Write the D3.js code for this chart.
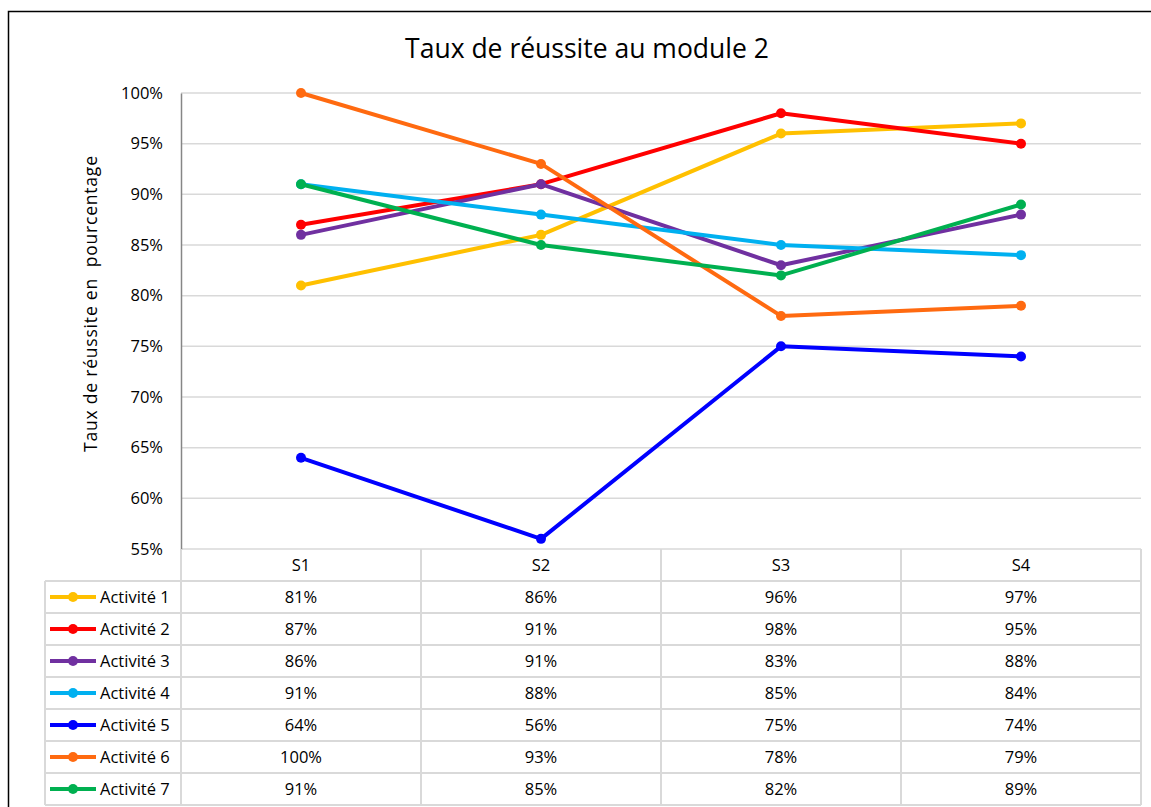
<!DOCTYPE html>
<html><head><meta charset="utf-8">
<script src="https://cdn.jsdelivr.net/npm/d3@7"></script>
<style>
body{margin:0;background:#fff;}
svg text{font-family:"Open Sans",Lato,sans-serif;fill:#000;}
</style></head>
<body><svg id="c" width="1151" height="807"></svg>
<script>
const categories = ["S1","S2","S3","S4"];
const seriesNames = ["Activité 1","Activité 2","Activité 3","Activité 4","Activité 5","Activité 6","Activité 7"];
const activite1 = [81,86,96,97];
const activite2 = [87,91,98,95];
const activite3 = [86,91,83,88];
const activite4 = [91,88,85,84];
const activite5 = [64,56,75,74];
const activite6 = [100,93,78,79];
const activite7 = [91,85,82,89];
const seriesColors = ["#FFC000","#FF0000","#7030A0","#00B0F0","#0000FF","#FF6A10","#00B050"];
const yTicks = [55,60,65,70,75,80,85,90,95,100];
const title = "Taux de réussite au module 2";
const yTitle = "Taux de réussite en  pourcentage";

const seriesValues = [activite1,activite2,activite3,activite4,activite5,activite6,activite7];
const series = seriesNames.map((n,i)=>({name:n,values:seriesValues[i],color:seriesColors[i]}));

const svg = d3.select("#c");
const L = 181, R = 1141, T = 93, B = 549;
const rowH = 32, tableLeft = 45;
const FS = 16.5;

// outer border
svg.append("path").attr("d","M8.5,807 L8.5,11.5 L1151,11.5").attr("fill","none").attr("stroke","#000").attr("stroke-width",1.5);

const x = d3.scaleBand().domain(categories).range([L,R]);
const y = d3.scaleLinear().domain([55,100]).range([B,T]);

// gridlines
svg.append("g").selectAll("line").data(yTicks).join("line")
  .attr("x1",L).attr("x2",R).attr("y1",d=>y(d)).attr("y2",d=>y(d))
  .attr("stroke","#d9d9d9").attr("stroke-width",1.5);

// y axis
const yAxis = d3.axisLeft(y).tickValues(yTicks).tickFormat(d=>d+"%").tickSize(0).tickPadding(18);
const gy = svg.append("g").attr("transform",`translate(${L},0)`).call(yAxis);
gy.select(".domain").attr("stroke","#868686").attr("stroke-width",1.5);
gy.selectAll("text").attr("font-size",FS).attr("font-family","'Open Sans',sans-serif").attr("fill","#000");

// table lines
const tg = svg.append("g").attr("stroke","#d9d9d9").attr("stroke-width",2);
const nRows = series.length;
const tableBottom = B + rowH*(nRows+1);
for(let r=1;r<=nRows+1;r++){
  tg.append("line").attr("x1",tableLeft).attr("x2",R).attr("y1",B+r*rowH).attr("y2",B+r*rowH);
}
tg.append("line").attr("x1",tableLeft).attr("x2",tableLeft).attr("y1",B+rowH).attr("y2",tableBottom);
tg.append("line").attr("x1",L).attr("x2",L).attr("y1",B).attr("y2",tableBottom);
categories.forEach(c=>{
  tg.append("line").attr("x1",x(c)+x.bandwidth()).attr("x2",x(c)+x.bandwidth()).attr("y1",B).attr("y2",tableBottom);
});

// header
svg.append("g").selectAll("text").data(categories).join("text")
  .attr("x",d=>x(d)+x.bandwidth()/2).attr("y",B+rowH/2+6).attr("text-anchor","middle")
  .attr("font-size",FS).text(d=>d);

// rows
series.forEach((s,i)=>{
  const cy = B+rowH*(i+1)+rowH/2;
  const lg = svg.append("g");
  lg.append("line").attr("x1",50).attr("x2",96).attr("y1",cy).attr("y2",cy).attr("stroke",s.color).attr("stroke-width",4);
  lg.append("circle").attr("cx",73).attr("cy",cy).attr("r",5).attr("fill",s.color);
  lg.append("text").attr("x",100).attr("y",cy+6).attr("font-size",FS).text(s.name);
  svg.append("g").selectAll("text").data(s.values).join("text")
    .attr("x",(d,j)=>x(categories[j])+x.bandwidth()/2).attr("y",cy+6).attr("text-anchor","middle")
    .attr("font-size",FS).text(d=>d+"%");
});

// lines
const line = d3.line().x((d,j)=>x(categories[j])+x.bandwidth()/2).y(d=>y(d));
const lg = svg.append("g");
series.forEach(s=>{
  const g = lg.append("g");
  g.append("path").attr("d",line(s.values)).attr("fill","none").attr("stroke",s.color).attr("stroke-width",4).attr("stroke-linejoin","round");
  g.selectAll("circle").data(s.values).join("circle")
    .attr("cx",(d,j)=>x(categories[j])+x.bandwidth()/2).attr("cy",d=>y(d)).attr("r",5).attr("fill",s.color);
});

// title
svg.append("text").attr("x",587).attr("y",58).attr("text-anchor","middle").attr("font-size",26.5).text(title);
// y title
svg.append("text").attr("transform",`translate(97,304) rotate(-90)`).attr("text-anchor","middle")
  .attr("font-size",17.5).attr("textLength",296).attr("lengthAdjust","spacing").style("white-space","pre").text(yTitle);
</script></body></html>
